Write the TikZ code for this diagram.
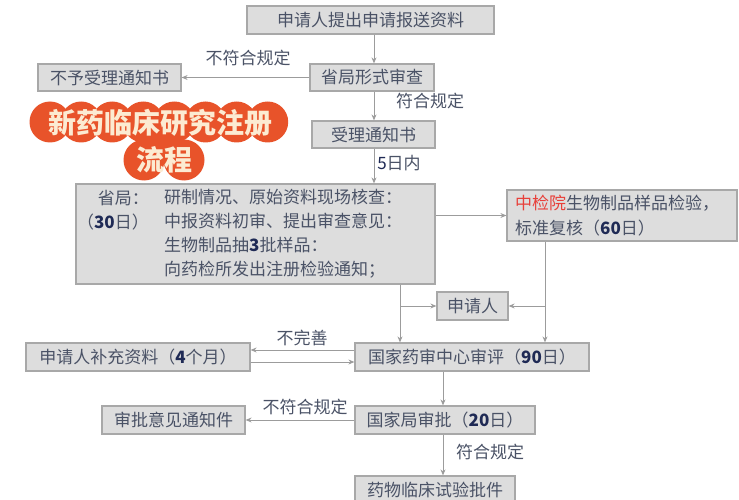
\documentclass[tikz,border=0pt]{standalone}
\usepackage{fontspec}
\setmainfont{Noto Sans CJK SC}
\usetikzlibrary{arrows.meta}
\definecolor{boxfill}{HTML}{DDDDDD}
\definecolor{boxline}{HTML}{A8A8A8}
\definecolor{txtc}{HTML}{4A5266}
\definecolor{numc}{HTML}{1F2A55}
\definecolor{linec}{HTML}{9C9C9C}
\definecolor{cloudc}{HTML}{E8532A}
\definecolor{titlec}{HTML}{FCEBD2}
\definecolor{redc}{HTML}{E8403A}
\newcommand\nmbr[1]{{\color{numc}\bfseries #1}}
\begin{document}
\begin{tikzpicture}[x=1pt,y=-1pt,
  box/.style={draw=boxline, fill=boxfill, line width=1.2pt, inner sep=0pt, text=txtc, font=\fontsize{17}{20}\selectfont},
  plain/.style={inner sep=0pt, text=txtc, font=\fontsize{17}{20}\selectfont},
  arr/.style={draw=linec, line width=1pt, -{Stealth[length=6pt,width=5pt]}},
  ln/.style={draw=linec, line width=1pt}]
\useasboundingbox (0,0) rectangle (739,500);
% title cloud
\foreach \i in {0,...,7}{\fill[cloudc] (50+31.1*\i,122) circle (20.5);}
\fill[cloudc] (50,112) rectangle (268,134);
\fill[cloudc] (144,122) rectangle (184,160);
\fill[cloudc] (144,160) circle (20.5);
\fill[cloudc] (184,160) circle (20.5);
\node[inner sep=0pt, text=titlec, font=\fontsize{28}{30}\selectfont\bfseries] (t1) at (160,123) {新药临床研究注册};
\node[inner sep=0pt, text=titlec, font=\fontsize{28}{30}\selectfont\bfseries] (t2) at (164,160) {流程};
% boxes
\node[box, minimum width=247, minimum height=28] (n1) at (370.5,20) {申请人提出申请报送资料};
\node[box, minimum width=124, minimum height=27] (n2) at (372,77.5) {省局形式审查};
\node[box, minimum width=143, minimum height=27] (n3) at (109.5,77.5) {不予受理通知书};
\node[box, minimum width=123, minimum height=27] (n4) at (373.5,134.5) {受理通知书};
\node[box, minimum width=359, minimum height=100] (n5) at (255.5,234) {};
\node[plain, align=right, font=\fontsize{17}{24}\selectfont, anchor=east] (n5a) at (149,210) {省局：\\（\nmbr{30}日）};
\node[plain, align=left, font=\fontsize{17}{24}\selectfont, anchor=west] (n5b) at (164,234) {研制情况、原始资料现场核查：\\中报资料初审、提出审查意见：\\生物制品抽\nmbr{3}批样品：\\向药检所发出注册检验通知；};
\node[box, minimum width=230, minimum height=51] (n6) at (622,215.5) {};
\node[plain, align=left, font=\fontsize{17}{25}\selectfont, anchor=west] (n6t) at (515,215.5) {\textcolor{redc}{中检院}生物制品样品检验，\\标准复核（\nmbr{60}日）};
\node[box, minimum width=71, minimum height=28] (n7) at (472.5,306) {申请人};
\node[box, minimum width=234, minimum height=28] (n8) at (472,357) {国家药审中心审评（\nmbr{90}日）};
\node[box, minimum width=224, minimum height=28] (n9) at (138,357) {申请人补充资料（\nmbr{4}个月）};
\node[box, minimum width=180, minimum height=28] (n10) at (445,420) {国家局审批（\nmbr{20}日）};
\node[box, minimum width=143, minimum height=28] (n11) at (173.5,420) {审批意见通知件};
\node[box, minimum width=160, minimum height=28] (n12) at (435,490) {药物临床试验批件};
% helper coordinates
\coordinate (vx) at (374,0);
\coordinate (bx) at (400,0);
\coordinate (cx) at (545,0);
\coordinate (dx) at (443,0);
\coordinate (ya) at (0,350);
\coordinate (yb) at (0,362);
% connectors
\draw[arr] (n1.south -| vx) -- (n2.north -| vx);
\draw[arr] (n2.west) -- (n3.east);
\node[plain] (l1) at (248,58) {不符合规定};
\draw[arr] (n2.south -| vx) -- (n4.north -| vx);
\node[plain] (l2) at (430,101) {符合规定};
\draw[arr] (n4.south -| vx) -- (n5.north -| vx);
\node[plain] (l3) at (399,163) {\nmbr{\mdseries 5}日内};
\draw[arr] (n5.east |- n6.west) -- (n6.west);
\draw[arr] (n5.south -| bx) -- (n8.north -| bx);
\draw[arr] (n7.west -| bx) -- (n7.west);
\draw[arr] (n6.south -| cx) -- (n8.north -| cx);
\draw[arr] (n7.east -| cx) -- (n7.east);
\draw[arr] (n8.west |- ya) -- (n9.east |- ya);
\node[plain] (l4) at (302,338) {不完善};
\draw[arr] (n9.east |- yb) -- (n8.west |- yb);
\draw[arr] (n8.south -| dx) -- (n10.north -| dx);
\draw[arr] (n10.west) -- (n11.east);
\node[plain] (l5) at (305,407) {不符合规定};
\draw[arr] (n10.south -| dx) -- (n12.north -| dx);
\node[plain] (l6) at (490,452) {符合规定};
\end{tikzpicture}
\end{document}
